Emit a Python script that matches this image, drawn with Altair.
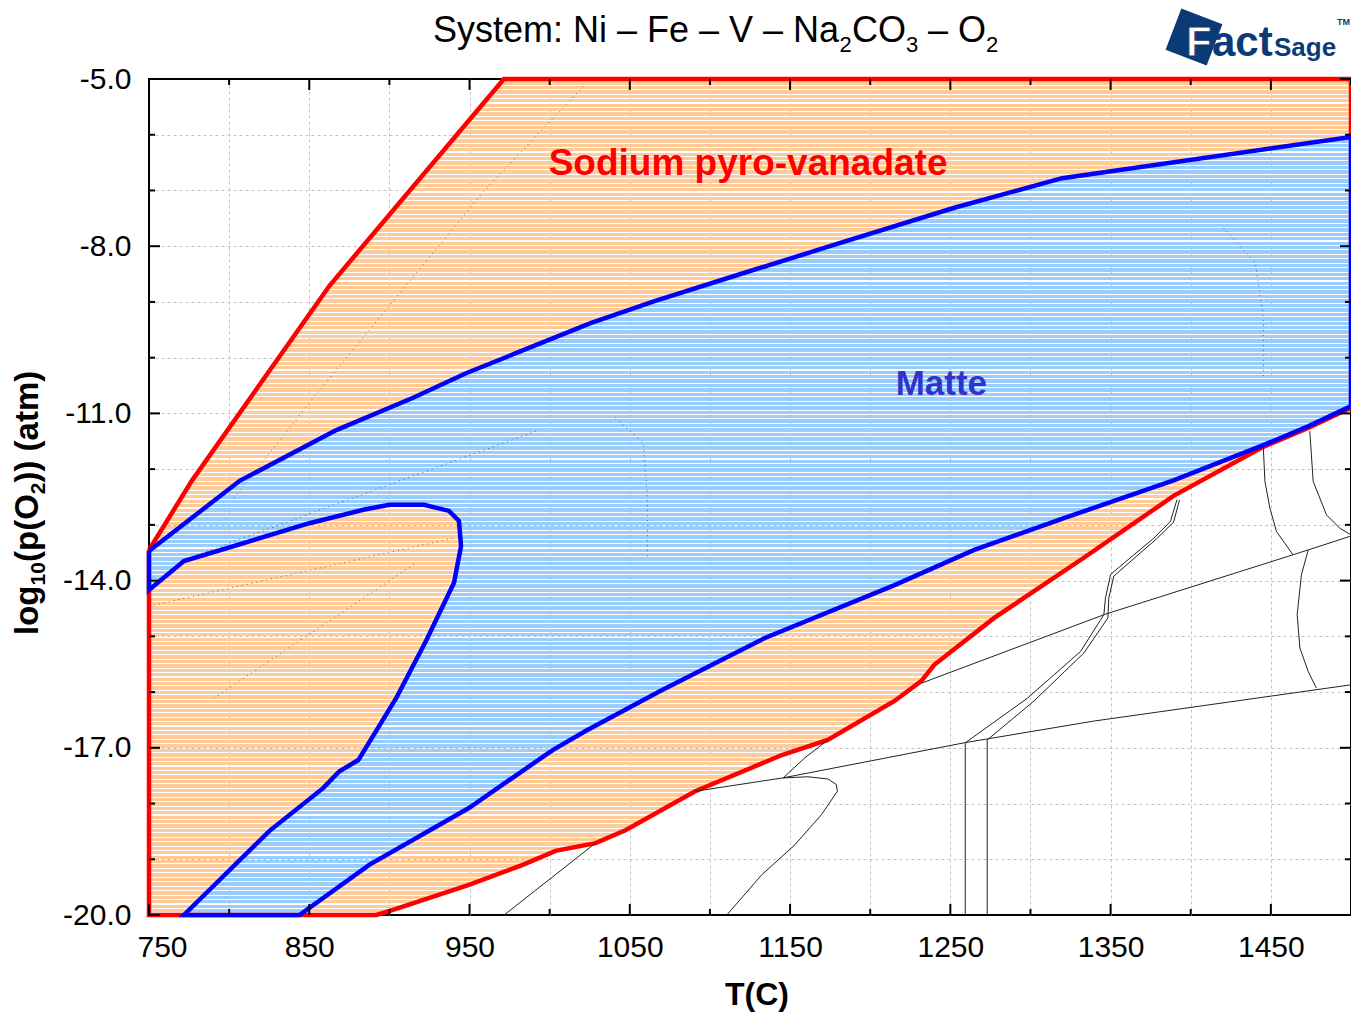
import math
import altair as alt
import pandas as pd

# ---------------- axis ticks / labels ----------------
x_major = [750, 850, 950, 1050, 1150, 1250, 1350, 1450]
x_minor = [800, 900, 1000, 1100, 1200, 1300, 1400, 1500]
y_major = [-5, -8, -11, -14, -17, -20]
y_minor = [-6, -7, -9, -10, -12, -13, -15, -16, -18, -19]

# ---------------- regions (T in C, log10 pO2) ----------------
pyro_T = [750, 776.7, 862.6, 971.4, 1500, 1500, 1473.3, 1445.3, 1389.3, 1333.3, 1277.4,
          1240.0, 1232.0, 1215.2, 1173.5, 1144.9, 1090.8, 1047.3, 1028.6, 1003.7, 983.2,
          949.6, 899.9, 891.8, 750]
pyro_y = [-13.45, -12.21, -8.71, -5.0, -5.0, -10.90, -11.26, -11.60, -12.48, -13.59, -14.67,
          -15.51, -15.80, -16.16, -16.86, -17.13, -17.78, -18.48, -18.71, -18.85, -19.10,
          -19.46, -19.93, -20.0, -20.0]

matte_T = [750, 806.6, 866.9, 914.8, 947.8, 978.9, 1025.5, 1065.9, 1115.7, 1174.8, 1252.5,
           1319.7, 1500,
           1500, 1473.3, 1445.3, 1389.3, 1320.9, 1264.9, 1215.2, 1134.3, 1069.0, 1022.4,
           1001.9, 949.6, 887.4, 843.9,
           771.8, 825.2, 858.8, 868.8, 880.6, 904.2, 922.9, 940.3, 944.7, 943.4, 937.2,
           921.6, 899.9, 883.7, 850.1, 771.8, 750]
matte_y = [-13.47, -12.21, -11.30, -10.72, -10.28, -9.92, -9.38, -8.98, -8.53, -8.00, -7.31,
           -6.78, -6.04,
           -10.87, -11.23, -11.57, -12.20, -12.88, -13.45, -14.08, -15.03, -15.98, -16.70,
           -17.04, -18.08, -19.10, -20.0,
           -20.0, -18.49, -17.72, -17.42, -17.22, -16.11, -15.08, -14.04, -13.38, -12.93,
           -12.75, -12.64, -12.64, -12.73, -12.97, -13.65, -14.17]

# ---------------- thin phase boundaries ----------------
line_a_T = [1090.8, 1145.5, 1258.7, 1339.6, 1500]
line_a_y = [-17.78, -17.54, -16.91, -16.52, -15.87]
line_b_T = [1232.0, 1347.0, 1473.3, 1500]
line_b_y = [-15.84, -14.60, -13.45, -13.20]
loop_T = [1110.5, 1132.3, 1153.0, 1169.6, 1179.5, 1178.9, 1173.7, 1161.3, 1145.7, 1159.2, 1173.7]
loop_y = [-20.0, -19.28, -18.74, -18.20, -17.78, -17.66, -17.56, -17.52, -17.54, -17.18, -16.86]
line_c_T = [971.6, 1028.6]
line_c_y = [-20.0, -18.71]
vert1_T = [1259.3, 1259.3]
vert1_y = [-16.91, -20.0]
vert2_T = [1273.0, 1273.0]
vert2_y = [-16.86, -20.0]
curve1_T = [1259.3, 1298.1, 1331.3, 1345.8, 1346.8, 1350.0, 1364.4, 1376.9, 1387.3, 1391.4]
curve1_y = [-16.91, -16.11, -15.27, -14.61, -14.31, -13.89, -13.54, -13.24, -12.94, -12.55]
curve2_T = [1273.0, 1302.2, 1333.3, 1348.3, 1348.9, 1352.0, 1366.3, 1378.7, 1389.3, 1393.0]
curve2_y = [-16.86, -16.16, -15.30, -14.67, -14.31, -13.92, -13.56, -13.25, -12.95, -12.55]
curve3_T = [1445.3, 1446.3, 1449.4, 1453.5, 1463.9]
curve3_y = [-11.62, -12.22, -12.70, -13.12, -13.54]
curve4_T = [1474.3, 1476.4, 1484.7, 1493.0, 1500]
curve4_y = [-11.32, -12.22, -12.82, -13.06, -13.18]
curve5_T = [1473.3, 1469.1, 1466.4, 1468.1, 1473.3, 1478.4]
curve5_y = [-13.45, -13.89, -14.61, -15.21, -15.63, -15.93]

# faint dotted lines inside the regions
dot1_T = [802.9, 852.6, 959.6, 1021.8]
dot1_y = [-12.52, -10.72, -6.99, -5.11]
dot2_T = [779.9, 991.3]
dot2_y = [-13.54, -11.32]
dot3_T = [753.1, 939.7]
dot3_y = [-14.44, -13.24]
dot4_T = [790.4, 916.7]
dot4_y = [-16.11, -13.68]
dot5_T = [1041.0, 1058.5, 1061.0, 1061.0]
dot5_y = [-11.08, -11.53, -12.52, -13.59]
dot6_T = [1420.4, 1440.3, 1445.3, 1445.3]
dot6_y = [-7.67, -8.30, -9.29, -10.37]

# ---------------- layout / style ----------------
PAD_L, PAD_T, PAD_B = 141, 71, 98
W, H = 1202, 836
T_DOM = [750, 1500]
Y_DOM = [-20, -5]
FONT = "Liberation Sans"
NAVY = "#0B3B77"
ORANGE = "#FFCC99"
LBLUE = "#99CCFF"


def poly_df(T, y):
    rows = [{"T": t, "y": v, "i": k} for k, (t, v) in enumerate(zip(T, y))]
    rows.append({"T": T[0], "y": y[0], "i": len(T)})
    return pd.DataFrame(rows)


def lines_df(pairs):
    rows = []
    for name, (T, y) in pairs.items():
        for k, (t, v) in enumerate(zip(T, y)):
            rows.append({"T": t, "y": v, "i": k, "id": name})
    return pd.DataFrame(rows)


def ypx(v):
    return (Y_DOM[1] - v) / (Y_DOM[1] - Y_DOM[0]) * H


def stripes(color, top, bottom, period=4.45, gap=1.1, phase=2.3):
    span = bottom - top
    clear = "rgba(255,255,255,0)"
    stops = []
    k = math.floor((top - phase) / period)
    while phase + k * period < bottom:
        a = phase + k * period
        for s, e, c in ((a, a + period - gap, color), (a + period - gap, a + period, clear)):
            s2 = round(min(max((s - top) / span, 0.0), 1.0), 5)
            e2 = round(min(max((e - top) / span, 0.0), 1.0), 5)
            if e2 > s2:
                stops.append(alt.GradientStop(color=c, offset=s2))
                stops.append(alt.GradientStop(color=c, offset=e2))
        k += 1
    return alt.LinearGradient(gradient="linear", stops=stops, x1=0, x2=0, y1=0, y2=1)


x_vals = sorted(x_major + x_minor)
y_vals = sorted(y_major + y_minor)
x_lab_list = ",".join(str(v) for v in x_major)
y_lab_list = ",".join(str(v) for v in y_major)

x_axis = alt.Axis(
    values=x_vals,
    labelExpr=f"indexof([{x_lab_list}], datum.value) >= 0 ? toString(datum.value) : ''",
    labelFont=FONT, labelFontSize=30, labelColor="black", labelPadding=17,
    labelFlush=False,
    labelOffset={"condition": {"test": "datum.value == 750", "value": 13}, "value": 0},
    ticks=False, domain=False,
    grid=True, gridDash=[3, 3], gridColor="#c4c4c4", gridWidth=1,
    gridOpacity={"condition": {"test": "datum.value == 750 || datum.value == 1500", "value": 0}, "value": 1},
)
y_axis = alt.Axis(
    values=y_vals,
    labelExpr=f"indexof([{y_lab_list}], datum.value) >= 0 ? toString(datum.value) + '.0' : ''",
    labelFont=FONT, labelFontSize=30, labelColor="black", labelPadding=18,
    ticks=False, domain=False,
    grid=True, gridDash=[3, 3], gridColor="#c4c4c4", gridWidth=1,
    gridOpacity={"condition": {"test": "datum.value == -5 || datum.value == -20", "value": 0}, "value": 1},
)


def X(field="T"):
    return alt.X(f"{field}:Q", scale=alt.Scale(domain=T_DOM, nice=False, zero=False), axis=x_axis, title=None)


def Y(field="y"):
    return alt.Y(f"{field}:Q", scale=alt.Scale(domain=Y_DOM, nice=False, zero=False), axis=y_axis, title=None)


layers = []

# regions
pyro_df = poly_df(pyro_T, pyro_y)
matte_df = poly_df(matte_T, matte_y)
grad_orange = stripes(ORANGE, ypx(max(pyro_y)), ypx(min(pyro_y)))
grad_blue = stripes(LBLUE, ypx(max(matte_y)), ypx(min(matte_y)))

layers.append(alt.Chart(pyro_df).mark_line(fill=grad_orange, stroke="#FF0000", strokeWidth=4.5)
              .encode(x=X(), y=Y(), order="i:Q"))

# thin black boundaries
thin_df = lines_df({
    "a": (line_a_T, line_a_y), "b": (line_b_T, line_b_y), "loop": (loop_T, loop_y),
    "c": (line_c_T, line_c_y), "v1": (vert1_T, vert1_y), "v2": (vert2_T, vert2_y),
    "c1": (curve1_T, curve1_y), "c2": (curve2_T, curve2_y), "c3": (curve3_T, curve3_y),
    "c4": (curve4_T, curve4_y), "c5": (curve5_T, curve5_y),
})
layers.append(alt.Chart(thin_df).mark_line(color="#222222", strokeWidth=1)
              .encode(x=X(), y=Y(), detail="id:N", order="i:Q"))

layers.append(alt.Chart(matte_df).mark_line(fill=grad_blue, stroke="#0000FF", strokeWidth=4.5)
              .encode(x=X(), y=Y(), order="i:Q"))

dot_df = lines_df({
    "d1": (dot1_T, dot1_y), "d2": (dot2_T, dot2_y), "d3": (dot3_T, dot3_y),
    "d4": (dot4_T, dot4_y), "d5": (dot5_T, dot5_y), "d6": (dot6_T, dot6_y),
})
layers.append(alt.Chart(dot_df).mark_line(color="black", strokeWidth=1, strokeDash=[1, 4], opacity=0.55)
              .encode(x=X(), y=Y(), detail="id:N", order="i:Q"))


# inward ticks on all four sides
def xticks(vals, length):
    d = pd.DataFrame({"v": vals})
    return [
        alt.Chart(d).mark_rule(color="black", strokeWidth=2).encode(x=X("v"), y=alt.value(H), y2=alt.value(H - length)),
        alt.Chart(d).mark_rule(color="black", strokeWidth=2).encode(x=X("v"), y=alt.value(0), y2=alt.value(length)),
    ]


def yticks(vals, length):
    d = pd.DataFrame({"v": vals})
    return [
        alt.Chart(d).mark_rule(color="black", strokeWidth=2).encode(y=Y("v"), x=alt.value(0), x2=alt.value(length)),
        alt.Chart(d).mark_rule(color="black", strokeWidth=2).encode(y=Y("v"), x=alt.value(W), x2=alt.value(W - length)),
    ]


layers += xticks(x_major, 11) + xticks(x_minor, 6) + yticks(y_major, 11) + yticks(y_minor, 6)

# region labels
lab_df = pd.DataFrame({"T": [1123.8], "y": [-6.72]})
layers.append(alt.Chart(lab_df).mark_text(text="Sodium pyro-vanadate", font=FONT, fontSize=37,
                                          fontWeight="bold", color="#FF0000", align="center",
                                          baseline="alphabetic").encode(x=X(), y=Y()))
lab2_df = pd.DataFrame({"T": [1244.4], "y": [-10.67]})
layers.append(alt.Chart(lab2_df).mark_text(text="Matte", font=FONT, fontSize=35,
                                           fontWeight="bold", color="#3333CC", align="center",
                                           baseline="alphabetic").encode(x=X(), y=Y()))

one = pd.DataFrame({"a": [0]})


def txt(s, x, y, size, weight="normal", color="black", angle=0, align="left", font=FONT, **kw):
    mk = dict(text=s, font=font, fontSize=size, fontWeight=weight, color=color, align=align,
              baseline="alphabetic")
    if angle:
        mk["angle"] = angle
    mk.update(kw)
    return alt.Chart(one).mark_text(**mk).encode(x=alt.value(x), y=alt.value(y))


# title with real subscripts
layers += [
    txt("System: Ni – Fe – V – Na", 284, -37, 36),
    txt("2", 690.5, -27, 22),
    txt("CO", 703, -37, 36),
    txt("3", 757, -27, 22),
    txt("– O", 779, -37, 36),
    txt("2", 837, -27, 22),
]

# axis titles
layers.append(txt("T(C)", 608, 926, 32, weight="bold", align="center"))
layers += [
    txt("log", -111, 556, 33, weight="bold", angle=270),
    txt("10", -104, 506.5, 21, weight="bold", angle=270),
    txt("(p(O", -111, 483, 33, weight="bold", angle=270),
    txt("2", -104, 415.3, 21, weight="bold", angle=270),
    txt(")) (atm)", -111, 403.6, 33, weight="bold", angle=270),
]

# FactSage logo
layers.append(alt.Chart(one).mark_point(shape="square", filled=True, size=1936, angle=21,
                                        color=NAVY, opacity=1)
              .encode(x=alt.value(1045), y=alt.value(-42)))
layers += [
    txt("F", 1037, -23, 42, weight="bold", color="white", stroke=NAVY, strokeWidth=1),
    txt("act", 1063, -23, 42, weight="bold", color=NAVY),
    txt("Sage", 1125, -23, 26, weight="bold", color=NAVY),
    txt("TM", 1188, -54, 9, weight="bold", color=NAVY),
]

chart = (
    alt.layer(*layers)
    .properties(width=W, height=H,
                padding={"left": PAD_L, "top": PAD_T, "right": 0, "bottom": PAD_B},
                autosize=alt.AutoSizeParams(type="none"))
    .configure_view(stroke="black", strokeWidth=2)
)

chart.save("out.html", embed_options={"renderer": "svg", "actions": False})
